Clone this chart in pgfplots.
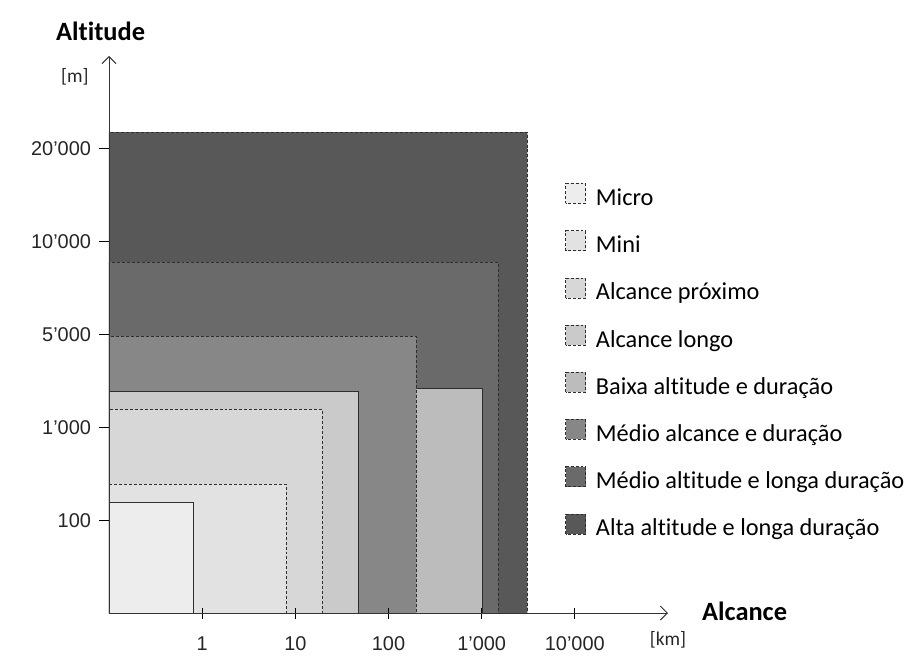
\documentclass[border=0pt]{standalone}
\usepackage{fontspec}
\setmainfont{Carlito}[Ligatures={TeX,NoCommon}]
\newfontfamily\arialf{Liberation Sans}
\usepackage{pgfplots}
\pgfplotsset{compat=1.18}
\usetikzlibrary{arrows.meta}
\definecolor{cMicro}{HTML}{EDEDED}
\definecolor{cMini}{HTML}{E2E2E2}
\definecolor{cProx}{HTML}{D7D7D7}
\definecolor{cLongo}{HTML}{CACACA}
\definecolor{cBaixa}{HTML}{BCBCBC}
\definecolor{cMedAlc}{HTML}{878787}
\definecolor{cMedAlt}{HTML}{6A6A6A}
\definecolor{cAlta}{HTML}{585858}
\definecolor{bord}{HTML}{2E2E2E}
\begin{document}
\begin{tikzpicture}
\begin{axis}[
  at={(0,0)}, anchor=south west,
  scale only axis, width=559bp, height=557bp,
  xmin=0, xmax=6, ymin=0, ymax=6,
  axis lines=left,
  axis line style={draw=black!80, line width=0.9bp, -{Straight Barb[length=7bp,width=14bp]}},
  axis on top,
  xtick={1,2,3,4,5}, xticklabels={1,10,100,1’000,10’000},
  ytick={1,2,3,4,5}, yticklabels={100,1’000,5’000,10’000,20’000},
  tick align=center, major tick length=11bp,
  tick style={black, line width=0.9bp},
  ytick style={xshift=-4bp},
  ticklabel style={font=\arialf\fontsize{20}{22}\selectfont, text=black!85},
  yticklabel style={xshift=-9bp},
  xticklabel style={yshift=-15bp},
  extra y ticks={5.78}, extra y tick labels={{[m]}},
  extra x ticks={6.0}, extra x tick labels={{[km]}},
  extra tick style={major tick length=0pt, ticklabel style={font=\fontsize{19.5}{21}\selectfont}},
  extra y tick style={yticklabel style={xshift=-8bp}},
  xlabel={\textbf{Alcance}},
  every axis x label/.style={at={(axis description cs:1.137,0.0)}, anchor=center, yshift=2bp, font=\fontsize{26.5}{28}\selectfont},
  ylabel={\textbf{Altitude}},
  every axis y label/.style={at={(axis description cs:-0.015,1.045)}, anchor=center, font=\fontsize{26.5}{28}\selectfont},
  legend image code/.code={\draw[#1, line width=0.6bp] (0bp,-3bp) rectangle (20bp,17bp);},
  legend cell align=left,
  legend style={at={(axis description cs:0.816,0.772)}, anchor=north west, draw=none, fill=none, inner sep=0pt,
    font=\fontsize{24.4}{27}\selectfont, row sep=19.9bp,
    nodes={inner sep=0bp, text height=15bp, text depth=5bp},
    /tikz/every odd column/.append style={column sep=10bp}},
]
% draw order: largest first
\addplot[forget plot, fill=cAlta, draw=bord, densely dashed, line width=0.6bp] coordinates {(0,0) (0,5.18) (4.49,5.18) (4.49,0) (0,0)};
\addplot[forget plot, fill=cMedAlt, draw=bord, densely dashed, line width=0.6bp] coordinates {(0,0) (0,3.78) (4.18,3.78) (4.18,0) (0,0)};
\addplot[forget plot, fill=cBaixa, draw=bord, line width=0.6bp] coordinates {(0,0) (0,2.42) (4.01,2.42) (4.01,0) (0,0)};
\addplot[forget plot, fill=cMedAlc, draw=bord, densely dashed, line width=0.6bp] coordinates {(0,0) (0,2.98) (3.30,2.98) (3.30,0) (0,0)};
\addplot[forget plot, fill=cLongo, draw=bord, line width=0.6bp] coordinates {(0,0) (0,2.39) (2.68,2.39) (2.68,0) (0,0)};
\addplot[forget plot, fill=cProx, draw=bord, densely dashed, line width=0.6bp] coordinates {(0,0) (0,2.19) (2.29,2.19) (2.29,0) (0,0)};
\addplot[forget plot, fill=cMini, draw=bord, densely dashed, line width=0.6bp] coordinates {(0,0) (0,1.39) (1.90,1.39) (1.90,0) (0,0)};
\addplot[forget plot, fill=cMicro, draw=bord, line width=0.6bp] coordinates {(0,0) (0,1.196) (0.90,1.196) (0.90,0) (0,0)};
% legend
\addlegendimage{fill=cMicro, draw=bord, densely dashed}
\addlegendentry{Micro}
\addlegendimage{fill=cMini, draw=bord, densely dashed}
\addlegendentry{Mini}
\addlegendimage{fill=cProx, draw=bord, densely dashed}
\addlegendentry{Alcance próximo}
\addlegendimage{fill=cLongo, draw=bord, densely dashed}
\addlegendentry{Alcance longo}
\addlegendimage{fill=cBaixa, draw=bord, densely dashed}
\addlegendentry{Baixa altitude e duração}
\addlegendimage{fill=cMedAlc, draw=bord, densely dashed}
\addlegendentry{Médio alcance e duração}
\addlegendimage{fill=cMedAlt, draw=bord, densely dashed}
\addlegendentry{Médio altitude e longa duração}
\addlegendimage{fill=cAlta, draw=bord, densely dashed}
\addlegendentry{Alta altitude e longa duração}
\end{axis}
\pgfresetboundingbox
\path[use as bounding box] (-109bp,-46bp) rectangle (809bp,613bp);
\end{tikzpicture}
\end{document}
